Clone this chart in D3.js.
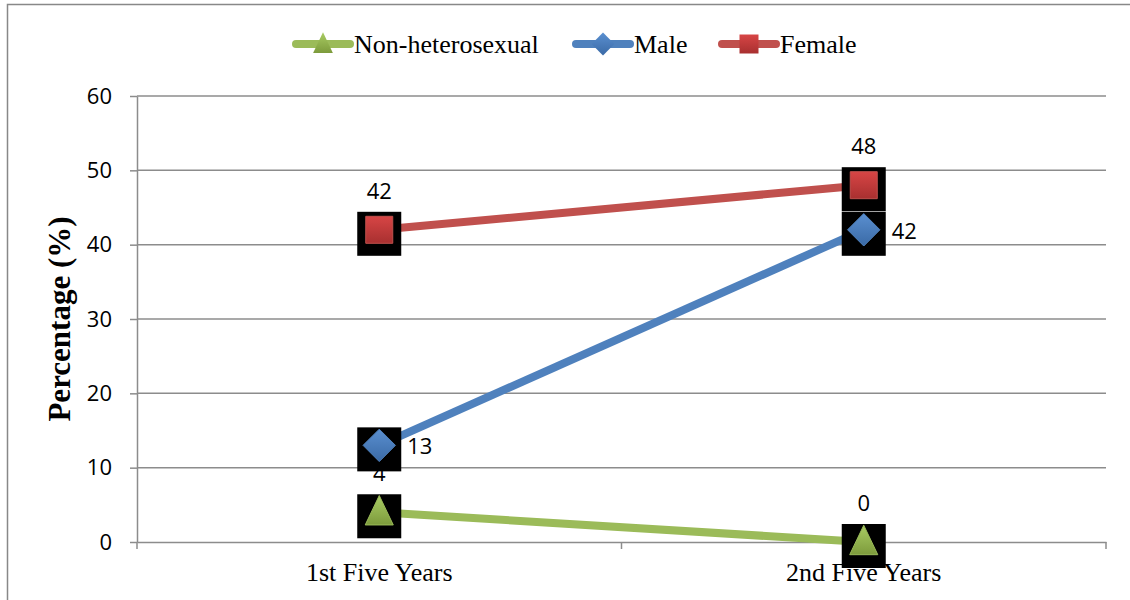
<!DOCTYPE html>
<html>
<head>
<meta charset="utf-8">
<script src="https://cdn.jsdelivr.net/npm/d3@7"></script>
<style>
  body { margin: 0; background: #fff; }
</style>
</head>
<body>
<script>
// chart data
var periods = ["1st Five Years", "2nd Five Years"];
var seriesNames = ["Non-heterosexual", "Male", "Female"];
var nonHetero = [4, 0];
var male = [13, 42];
var female = [42, 48];
var yTicks = [0, 10, 20, 30, 40, 50, 60];

var W = 1130, H = 600;
var margin = {top: 96, right: 24, bottom: 58, left: 137};
var width = W - margin.left - margin.right,
    height = H - margin.top - margin.bottom;

var svg = d3.select("body").append("svg")
    .attr("width", W).attr("height", H);

// outer frame (left + top)
svg.append("path")
    .attr("d", "M7.5," + H + "V4.5H" + W)
    .attr("fill", "none").attr("stroke", "#888").attr("stroke-width", 1.5);

var defs = svg.append("defs");
function grad(id, c1, c2) {
  var g = defs.append("linearGradient").attr("id", id)
      .attr("x1", 0).attr("y1", 0).attr("x2", 0).attr("y2", 1);
  g.append("stop").attr("offset", "0%").attr("stop-color", c1);
  g.append("stop").attr("offset", "100%").attr("stop-color", c2);
}
grad("gGreen", "#a9cc63", "#7d9b3c");
grad("gBlue", "#5a8fd0", "#3a6aa6");
grad("gRed", "#d74545", "#a83030");

var g = svg.append("g")
    .attr("transform", "translate(" + margin.left + "," + margin.top + ")");

var x = d3.scaleBand().domain(periods).range([0, width]);
var y = d3.scaleLinear().domain([0, 60]).range([height, 0]);

var sans = "'Open Sans', 'DejaVu Sans', sans-serif";
var serif = "'Liberation Serif', 'Times New Roman', serif";

// gridlines
g.selectAll(".grid").data(yTicks.slice(1)).enter().append("line")
    .attr("x1", 0).attr("x2", width)
    .attr("y1", function(d) { return y(d); })
    .attr("y2", function(d) { return y(d); })
    .attr("stroke", "#8c8c8c").attr("stroke-width", 1.5);

// y axis
var yAxis = g.append("g")
    .call(d3.axisLeft(y).tickValues(yTicks).tickSize(7).tickPadding(18).tickSizeOuter(0));
yAxis.select(".domain").attr("stroke", "#8c8c8c").attr("stroke-width", 1.5);
yAxis.selectAll(".tick line").attr("stroke", "#8c8c8c").attr("stroke-width", 1.5);
yAxis.selectAll("text")
    .attr("font-family", sans)
    .attr("font-size", 22).attr("fill", "#000");

// x axis
var xAxis = g.append("g")
    .attr("transform", "translate(0," + height + ")")
    .call(d3.axisBottom(x).tickSize(0).tickPadding(21));
xAxis.select(".domain").attr("stroke", "#8c8c8c").attr("stroke-width", 1.5);
xAxis.selectAll("text")
    .attr("font-family", serif)
    .attr("font-size", 26).attr("fill", "#000");
// tick marks at category boundaries
var bounds = [0, x.step(), width];
g.selectAll(".xt").data(bounds).enter().append("line")
    .attr("x1", function(d) { return d; }).attr("x2", function(d) { return d; })
    .attr("y1", height).attr("y2", height + 7)
    .attr("stroke", "#8c8c8c").attr("stroke-width", 1.5);

// y title
svg.append("text")
    .attr("transform", "translate(70," + (margin.top + height / 2) + ") rotate(-90)")
    .attr("text-anchor", "middle")
    .attr("font-family", serif)
    .attr("font-weight", "bold").attr("font-size", 31)
    .text("Percentage (%)");

var series = [
  {name: "Non-heterosexual", values: nonHetero, color: "#9bbb59", fill: "url(#gGreen)", shape: "tri", labelPos: ["top", "top"]},
  {name: "Male", values: male, color: "#4f81bd", fill: "url(#gBlue)", shape: "dia", labelPos: ["right", "right"]},
  {name: "Female", values: female, color: "#c0504d", fill: "url(#gRed)", shape: "sq", labelPos: ["top", "top"]}
];

function symbolPath(shape, s) {
  if (shape === "tri") return "M0," + (-s * 0.62) + "L" + (s * 0.52) + "," + (s * 0.47) + "L" + (-s * 0.52) + "," + (s * 0.47) + "Z";
  if (shape === "dia") return "M0," + (-s * 0.6) + "L" + (s * 0.6) + ",0L0," + (s * 0.6) + "L" + (-s * 0.6) + ",0Z";
  return "M" + (-s / 2) + "," + (-s / 2) + "h" + s + "v" + s + "h" + (-s) + "Z";
}

var cx = function(i) { return x(periods[i]) + x.bandwidth() / 2; };
var line = d3.line().x(function(d, i) { return cx(i); }).y(function(d) { return y(d); });

// draw series in order
series.forEach(function(s) {
  g.append("path").datum(s.values)
      .attr("d", line)
      .attr("fill", "none").attr("stroke", s.color).attr("stroke-width", 8);
});

series.forEach(function(s) {
  var pts = g.selectAll(null).data(s.values).enter().append("g")
      .attr("transform", function(d, i) { return "translate(" + cx(i) + "," + y(d) + ")"; });
  pts.append("rect")
      .attr("x", -22).attr("y", -18).attr("width", 44).attr("height", 44)
      .attr("fill", "#000");
  pts.append("path")
      .attr("d", symbolPath(s.shape, 27))
      .attr("fill", s.fill).attr("stroke", s.color).attr("stroke-width", 1);
});

// data labels
series.forEach(function(s) {
  g.selectAll(null).data(s.values).enter().append("text")
      .attr("x", function(d, i) { return s.labelPos[i] === "right" ? cx(i) + 28 : cx(i); })
      .attr("y", function(d, i) { return s.labelPos[i] === "right" ? y(d) + 9 : y(d) - 31; })
      .attr("text-anchor", function(d, i) { return s.labelPos[i] === "right" ? "start" : "middle"; })
      .attr("font-family", sans)
      .attr("font-size", 22).attr("fill", "#000")
      .text(function(d) { return d; });
});

// legend
var legX = [292, 572, 718];
var legend = svg.append("g").attr("transform", "translate(0,44)");
series.forEach(function(s, i) {
  var lg = legend.append("g").attr("transform", "translate(" + legX[i] + ",0)");
  lg.append("line").attr("x1", 4).attr("x2", 58).attr("y1", 0).attr("y2", 0)
      .attr("stroke", s.color).attr("stroke-width", 8).attr("stroke-linecap", "round");
  lg.append("path").attr("transform", "translate(31,0)")
      .attr("d", symbolPath(s.shape, 19)).attr("fill", s.fill);
  lg.append("text").attr("x", 62).attr("y", 9)
      .attr("font-family", serif)
      .attr("font-size", 26).attr("fill", "#000")
      .text(s.name);
});
</script>
</body>
</html>
